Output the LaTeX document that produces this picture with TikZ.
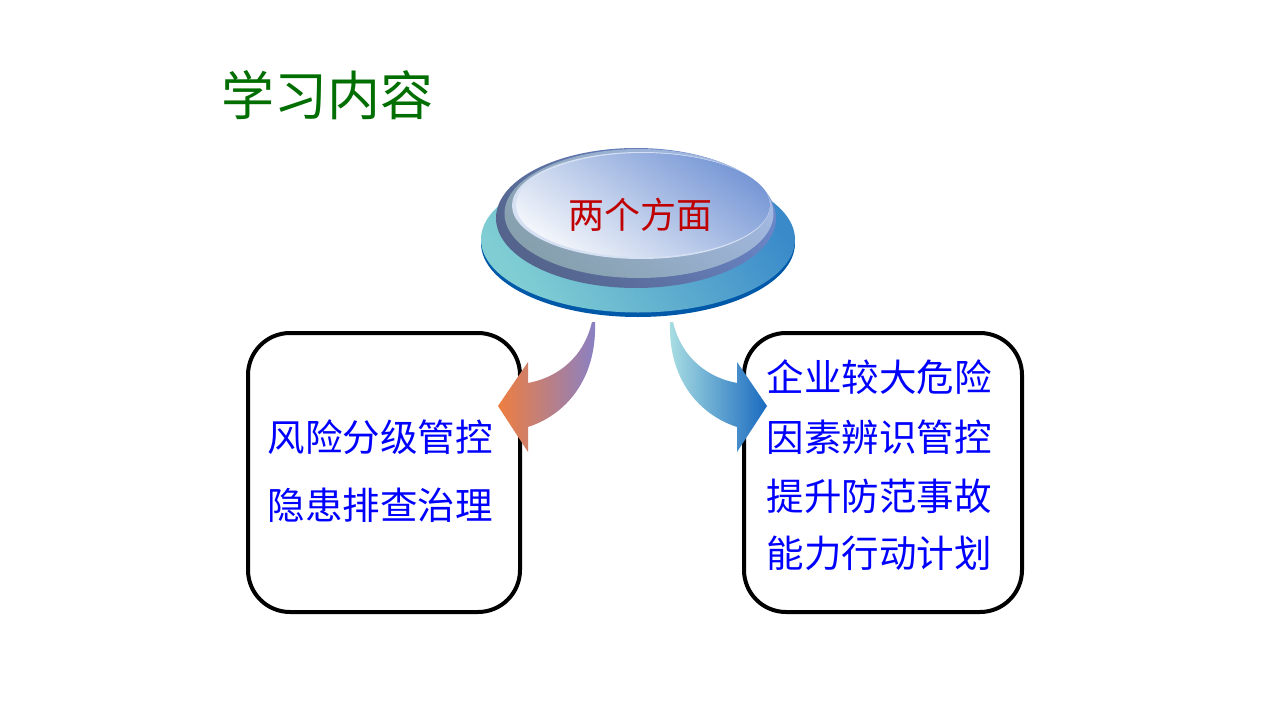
\documentclass[tikz,border=0pt]{standalone}
\usepackage{fontspec}
\newfontfamily\cjk{Noto Sans CJK SC}
\definecolor{txtblue}{HTML}{0000FF}
\definecolor{txtred}{HTML}{C00000}
\definecolor{txtgreen}{HTML}{006E00}
\definecolor{basedark}{HTML}{0058A8}
\definecolor{baseA}{HTML}{80CED3}
\definecolor{baseB}{HTML}{3A8ACA}
\definecolor{rimA}{HTML}{54648C}
\definecolor{rimB}{HTML}{6C88CC}
\definecolor{bodyA}{HTML}{86A0AE}
\definecolor{bodyB}{HTML}{A4BAE4}
\definecolor{hiA}{HTML}{F2F5FA}
\definecolor{hiB}{HTML}{7898D6}
\definecolor{arLA}{HTML}{EE7E40}
\definecolor{arLB}{HTML}{8880C6}
\definecolor{arRA}{HTML}{AADFE2}
\definecolor{arRB}{HTML}{1A6AC0}
\tikzset{
  roundbox/.style={draw=black, line width=4pt, rounded corners=42pt, fill=white},
  bluetxt/.style={font=\cjk\fontsize{37.5pt}{40pt}\selectfont, text=txtblue, inner sep=0pt},
}
\begin{document}
\begin{tikzpicture}[x=1pt,y=-1pt]
\useasboundingbox[fill=white] (0,0) rectangle (1280,720);
% title
\node[font=\cjk\fontsize{53pt}{56pt}\selectfont, text=txtgreen, inner sep=0pt] (title) at (327,95) {学习内容};
% boxes
\node[roundbox, minimum width=272pt, minimum height=279pt] (lbox) at (384,472.5) {};
\node[roundbox, minimum width=278pt, minimum height=279pt] (rbox) at (883,472.5) {};
% disk base
\fill[basedark] (638,243) ellipse [x radius=157pt, y radius=74pt];
\shade[left color=baseA, right color=baseB, shading angle=125] (638,239.5) ellipse [x radius=157pt, y radius=73pt];
% top disk
\shade[left color=rimA, right color=rimB, shading angle=135] (636,218) ellipse [x radius=140pt, y radius=70pt];
\shade[left color=bodyA, right color=bodyB, shading angle=140] (639,213.5) ellipse [x radius=134.5pt, y radius=64.5pt];
\fill[white!70!hiB] (641,205.5) ellipse [x radius=129pt, y radius=53.5pt];
\shade[left color=hiA, right color=hiB, shading angle=145] (643,205) ellipse [x radius=127pt, y radius=52pt];
\node[font=\cjk\fontsize{36pt}{40pt}\selectfont, text=txtred, inner sep=0pt] (aspects) at (640,215) {两个方面};
% arrows
\shade[left color=arLA, right color=arLB] (498,406) -- (528,362) -- (528,383)
  .. controls (555,378) and (583,360) .. (592,322) -- (595,322)
  .. controls (597,380) and (565,415) .. (528,427) -- (528,452) -- cycle;
\shade[left color=arRA, right color=arRB] (767,406) -- (737,362) -- (737,383)
  .. controls (710,378) and (682,360) .. (673,322) -- (670,322)
  .. controls (668,380) and (700,415) .. (737,427) -- (737,452) -- cycle;
% left box text
\node[bluetxt] (l1) at (380,437) {风险分级管控};
\node[bluetxt] (l2) at (380,505) {隐患排查治理};
% right box text
\node[bluetxt] (r1) at (879,377) {企业较大危险};
\node[bluetxt] (r2) at (879,437.5) {因素辨识管控};
\node[bluetxt] (r3) at (879,496) {提升防范事故};
\node[bluetxt] (r4) at (879,553) {能力行动计划};
\end{tikzpicture}
\end{document}
